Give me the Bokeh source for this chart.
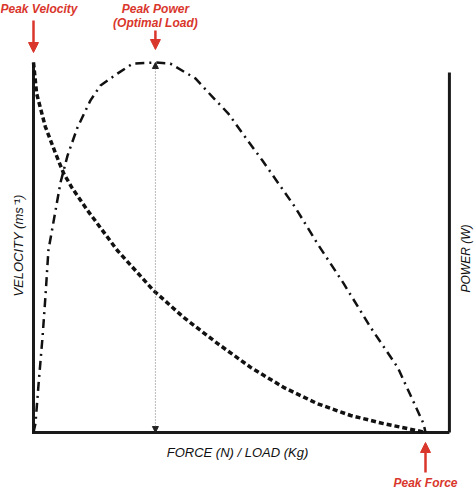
import numpy as np
from math import pi
from bokeh.plotting import figure
from bokeh.models import Label, Arrow, NormalHead, Range1d
from bokeh.embed import file_html
from bokeh.resources import INLINE

# Force (normalised to peak force) and velocity (normalised to peak velocity)
force = [0.0, 0.008, 0.030, 0.056, 0.077, 0.099, 0.138, 0.214, 0.306, 0.383, 0.469, 0.554,
         0.638, 0.724, 0.809, 0.893, 0.98, 1.0]
velocity = [1.0, 0.916, 0.827, 0.755, 0.70, 0.66, 0.60, 0.492, 0.384, 0.311, 0.241, 0.176,
            0.122, 0.078, 0.046, 0.024, 0.005, 0.0]

# Power curve (normalised to peak power)
power_force = [0.0, 0.005, 0.013, 0.023, 0.031, 0.038, 0.069, 0.087, 0.112, 0.145,
               0.171, 0.214, 0.253, 0.311, 0.349, 0.413, 0.446, 0.497, 0.541, 0.584,
               0.625, 0.668, 0.724, 0.791, 0.86, 0.929, 0.995, 1.0]
power = [0.0, 0.024, 0.132, 0.257, 0.376, 0.492, 0.676, 0.749, 0.824, 0.897,
         0.938, 0.97, 0.997, 1.0, 0.997, 0.957, 0.919, 0.862, 0.797, 0.735,
         0.673, 0.608, 0.511, 0.403, 0.284, 0.176, 0.024, 0.0]

axis_end = 1.061          # right (power) axis position in force units
right_axis_top = 0.973    # top of the right axis line

RED = "#d9362c"
INK = "#1a1a1a"
FONT = "Liberation Sans"

W, H = 474, 489
# page-pixel helpers
def fx(px):
    return (px - 33) / 392.0
def vy(py):
    return (432 - py) / 370.0

p = figure(width=W, height=H, output_backend="svg", toolbar_location=None,
           x_range=Range1d(fx(0), fx(W)), y_range=Range1d(vy(H), vy(0)),
           x_axis_type=None, y_axis_type=None, min_border=0)
p.grid.visible = False
p.outline_line_color = None
p.background_fill_color = "white"
p.border_fill_color = "white"

# frame lines
p.line([0, 0, axis_end], [velocity[0], 0, 0], line_width=3, color=INK, line_join="miter")
p.line([axis_end, axis_end], [0, right_axis_top], line_width=3, color=INK)

# curves
p.line(force, velocity, line_width=3.5, line_dash="5 3", color="#111111")
p.line(power_force, power, line_width=2.5, line_dash="9 5 2 5", color="#111111")

# optimal load marker
ipk = int(np.argmax(power))
fpk, ppk = power_force[ipk], power[ipk]
p.add_layout(Arrow(x_start=fpk, y_start=0, x_end=fpk, y_end=ppk,
                   start=NormalHead(size=6, fill_color="#222222", line_color="#222222"),
                   end=NormalHead(size=6, fill_color="#222222", line_color="#222222"),
                   line_color="#777777", line_width=1, line_dash="1 2"))

# red arrows
def red_arrow(x, y0, y1):
    p.add_layout(Arrow(x_start=x, y_start=y0, x_end=x, y_end=y1,
                       end=NormalHead(size=10, fill_color=RED, line_color=RED),
                       line_color=RED, line_width=2.5))

red_arrow(force[0], vy(20), vy(52))
red_arrow(fpk, vy(30), vy(49))
red_arrow(force[-1], vy(472), vy(442))

def label(x, y, text, color=INK, style="italic", size="12px", align="center",
          baseline="middle", angle=0.0):
    p.add_layout(Label(x=x, y=y, text=text, text_color=color, text_font=FONT,
                       text_font_style=style, text_font_size=size, text_align=align,
                       text_baseline=baseline, angle=angle))

label(fx(0), vy(8), "Peak Velocity", color=RED, style="bold italic", align="left")
label(fpk, vy(8), "Peak Power", color=RED, style="bold italic")
label(fpk, vy(22), "(Optimal Load)", color=RED, style="bold italic")
label(force[-1], vy(482), "Peak Force", color=RED, style="bold italic")
label(fx(237), vy(452), "FORCE (N) / LOAD (Kg)", size="13px", color="#111111")
label(fx(18), vy(245), "VELOCITY (ms\u207b\u00b9)", size="13px", color="#111111", angle=pi / 2)
label(fx(465), vy(258), "POWER (W)", size="12px", color="#111111", angle=pi / 2)

open("out.html", "w").write(file_html(p, INLINE))
